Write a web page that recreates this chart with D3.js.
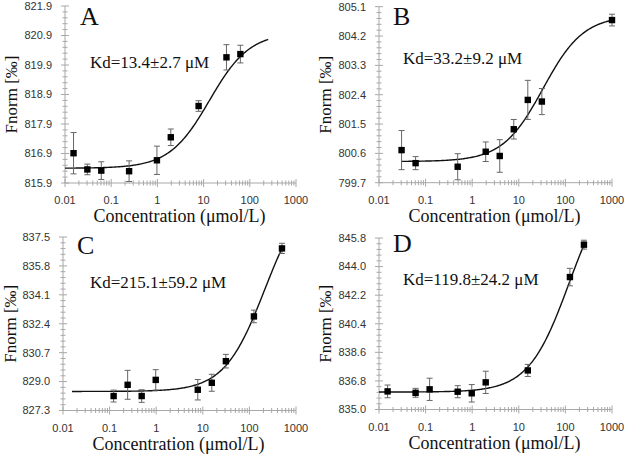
<!DOCTYPE html>
<html><head><meta charset="utf-8">
<script src="https://cdn.jsdelivr.net/npm/d3@7"></script>
<style>body{margin:0;background:#fff}svg{display:block}</style>
</head><body>
<svg id="c" width="626" height="455"></svg>
<script>
// ---- data ----
const xTickValues = [0.01, 0.1, 1, 10, 100, 1000];
const xTickLabels = ["0.01", "0.1", "1", "10", "100", "1000"];

const concA = [0.0153, 0.0305, 0.061, 0.244, 0.977, 1.95, 7.8, 31.25, 62.5];
const valA  = [816.91, 816.36, 816.32, 816.30, 816.67, 817.45, 818.51, 820.16, 820.27];
const errA  = [0.70, 0.18, 0.30, 0.35, 0.48, 0.28, 0.18, 0.43, 0.30];
const yTicksA = [815.9, 816.9, 817.9, 818.9, 819.9, 820.9, 821.9];
const fitA = [13.4, 816.4, 821.0, 0.01, 250]; // Kd, bottom, top, cMin, cMax

const concB = [0.0305, 0.061, 0.488, 1.95, 3.9, 7.8, 15.6, 31.25, 1000];
const valB  = [800.70, 800.30, 800.19, 800.65, 800.52, 801.34, 802.24, 802.19, 804.69];
const errB  = [0.60, 0.20, 0.40, 0.30, 0.50, 0.30, 0.60, 0.40, 0.18];
const yTicksB = [799.7, 800.6, 801.5, 802.4, 803.3, 804.2, 805.1];
const fitB = [33.2, 800.35, 804.83, 0.0305, 1000];

const concC = [0.122, 0.244, 0.488, 0.977, 7.8, 15.6, 31.25, 125, 500];
const valC  = [828.15, 828.81, 828.15, 829.10, 828.52, 828.93, 830.20, 832.83, 836.83];
const errC  = [0.35, 0.85, 0.37, 0.60, 0.60, 0.50, 0.40, 0.37, 0.30];
const yTicksC = [827.3, 829.0, 830.7, 832.4, 834.1, 835.8, 837.5];
const fitC = [215.1, 828.42, 840.45, 0.0156, 500];

const concD = [0.0153, 0.061, 0.122, 0.488, 0.977, 1.95, 15.6, 125, 250];
const valD  = [836.14, 836.05, 836.27, 836.12, 836.02, 836.71, 837.46, 843.34, 845.38];
const errD  = [0.40, 0.28, 0.70, 0.38, 0.55, 0.70, 0.38, 0.55, 0.28];
const yTicksD = [835.0, 836.8, 838.6, 840.4, 842.2, 844.0, 845.8];
const fitD = [119.8, 836.1, 849.8, 0.01, 250];

const letters = ["A", "B", "C", "D"];
const kdTexts = ["Kd=13.4±2.7 μM", "Kd=33.2±9.2 μM", "Kd=215.1±59.2 μM", "Kd=119.8±24.2 μM"];

// ---- layout ----
const panels = [
  {conc: concA, val: valA, err: errA, yt: yTicksA, fit: fitA, L: 65, R: 296, T: 6, B: 183},
  {conc: concB, val: valB, err: errB, yt: yTicksB, fit: fitB, L: 379, R: 612, T: 6.7, B: 182.7},
  {conc: concC, val: valC, err: errC, yt: yTicksC, fit: fitC, L: 63, R: 296, T: 237, B: 410.5},
  {conc: concD, val: valD, err: errD, yt: yTicksD, fit: fitD, L: 379, R: 612, T: 238, B: 409.5}
];
const letterPos = [[80, 25], [393, 25], [77, 254], [393, 252]];
const kdPos = [[90, 68], [403, 64], [90, 288], [403, 285]];

const svg = d3.select("#c");
const axisCol = "#a8a8a8";
const serif = "'Liberation Serif','Times New Roman',serif";
const sans = "'Liberation Sans',Arial,sans-serif";

panels.forEach((p, i) => {
  const g = svg.append("g");
  const x = d3.scaleLog().domain([0.01, 1000]).range([p.L, p.R]);
  const y = d3.scaleLinear().domain([p.yt[0], p.yt[p.yt.length - 1]]).range([p.B, p.T]);

  // y axis line
  g.append("line").attr("x1", p.L).attr("x2", p.L).attr("y1", p.T).attr("y2", p.B)
    .attr("stroke", axisCol).attr("stroke-width", 1);
  // y minor ticks
  const step = p.yt[1] - p.yt[0];
  for (let k = 0; k < p.yt.length - 1; k++) {
    for (let m = 1; m < 5; m++) {
      const v = p.yt[k] + step * m / 5;
      g.append("line").attr("x1", p.L - 2.5).attr("x2", p.L + 2.5).attr("y1", y(v)).attr("y2", y(v))
        .attr("stroke", axisCol).attr("stroke-width", 1);
    }
  }
  p.yt.forEach(v => {
    g.append("line").attr("x1", p.L - 4).attr("x2", p.L + 4).attr("y1", y(v)).attr("y2", y(v))
      .attr("stroke", axisCol).attr("stroke-width", 1);
    g.append("text").attr("x", p.L - 13).attr("y", y(v)).attr("dy", "0.35em")
      .attr("text-anchor", "end").attr("font-family", sans).attr("font-size", 11)
      .attr("fill", "#333").text(v.toFixed(1));
  });

  // x axis line
  g.append("line").attr("x1", p.L).attr("x2", p.R).attr("y1", p.B).attr("y2", p.B)
    .attr("stroke", axisCol).attr("stroke-width", 1);
  for (let e = -2; e < 3; e++) {
    for (let m = 2; m < 10; m++) {
      const v = m * Math.pow(10, e);
      g.append("line").attr("x1", x(v)).attr("x2", x(v)).attr("y1", p.B - 2.5).attr("y2", p.B + 2.5)
        .attr("stroke", axisCol).attr("stroke-width", 1);
    }
  }
  xTickValues.forEach((v, k) => {
    g.append("line").attr("x1", x(v)).attr("x2", x(v)).attr("y1", p.B - 4).attr("y2", p.B + 4)
      .attr("stroke", axisCol).attr("stroke-width", 1);
    g.append("text").attr("x", x(v)).attr("y", p.B + 21)
      .attr("text-anchor", "middle").attr("font-family", sans).attr("font-size", 11)
      .attr("fill", "#333").text(xTickLabels[k]);
  });

  // axis titles
  g.append("text").attr("x", (p.L + p.R) / 2 - 1).attr("y", p.B + 39)
    .attr("text-anchor", "middle").attr("font-family", serif).attr("font-size", 18)
    .attr("fill", "#111").text("Concentration (μmol/L)");
  const yc = (p.T + p.B) / 2;
  const tx = Math.max(p.L - 48, 16);
  g.append("text").attr("transform", `translate(${tx},${yc}) rotate(-90)`)
    .attr("text-anchor", "middle").attr("font-family", serif).attr("font-size", 17)
    .attr("fill", "#111").text("Fnorm [‰]");

  // fit curve
  const [kd, lo, hi, c0, c1] = p.fit;
  const cs = d3.range(0, 201).map(t => c0 * Math.pow(c1 / c0, t / 200));
  const line = d3.line().x(c => x(c)).y(c => y(lo + (hi - lo) * c / (c + kd)));
  g.append("path").attr("d", line(cs)).attr("fill", "none").attr("stroke", "#111").attr("stroke-width", 1.4);

  // error bars
  p.conc.forEach((c, k) => {
    const cx = x(c), y1 = y(p.val[k] + p.err[k]), y2 = y(p.val[k] - p.err[k]);
    g.append("line").attr("x1", cx).attr("x2", cx).attr("y1", y1).attr("y2", y2).attr("stroke", "#666").attr("stroke-width", 1);
    [y1, y2].forEach(yy => g.append("line").attr("x1", cx - 3).attr("x2", cx + 3).attr("y1", yy).attr("y2", yy)
      .attr("stroke", "#666").attr("stroke-width", 1));
  });
  // markers
  g.selectAll("rect.pt").data(p.conc).enter().append("rect")
    .attr("x", c => x(c) - 3.2).attr("y", (c, k) => y(p.val[k]) - 3.2)
    .attr("width", 6.4).attr("height", 6.4).attr("fill", "#000");

  // panel letter & Kd
  g.append("text").attr("x", letterPos[i][0]).attr("y", letterPos[i][1])
    .attr("font-family", serif).attr("font-size", 26).attr("fill", "#111").text(letters[i]);
  g.append("text").attr("x", kdPos[i][0]).attr("y", kdPos[i][1])
    .attr("font-family", serif).attr("font-size", 17).attr("fill", "#111").text(kdTexts[i]);
});
</script>
</body></html>
